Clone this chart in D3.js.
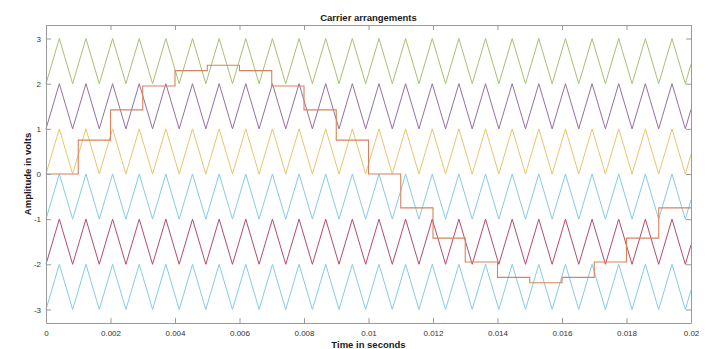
<!DOCTYPE html>
<html>
<head>
<meta charset="utf-8">
<script src="https://cdn.jsdelivr.net/npm/d3@7"></script>
<style>
  body { margin: 0; background: #fff; }
  svg { display: block; font-family: "Liberation Sans", Arial, sans-serif; }
  .axis path, .axis line { stroke: #9a9a9a; }
  .axis text { fill: #333; font-size: 8px; }
</style>
</head>
<body>
<script>
// ---- data ----
const xTickValues = [0, 0.002, 0.004, 0.006, 0.008, 0.01, 0.012, 0.014, 0.016, 0.018, 0.02];
const xTickLabels = ["0", "0.002", "0.004", "0.006", "0.008", "0.01", "0.012", "0.014", "0.016", "0.018", "0.02"];
const yTickValues = [-3, -2, -1, 0, 1, 2, 3];
const yTickLabels = ["-3", "-2", "-1", "0", "1", "2", "3"];

// carrier vertex times (ms) and the level at each vertex (0 = bottom, 1 = top of the band)
const carrierVertexMs = [0, 0.413, 0.826, 1.239, 1.652, 2.065, 2.478, 2.891, 3.304, 3.717,
  4.130, 4.543, 4.956, 5.369, 5.782, 6.195, 6.608, 7.021, 7.434, 7.847,
  8.260, 8.673, 9.086, 9.499, 9.912, 10.325, 10.738, 11.151, 11.564, 11.977,
  12.390, 12.803, 13.216, 13.629, 14.042, 14.455, 14.868, 15.281, 15.694, 16.107,
  16.520, 16.933, 17.346, 17.759, 18.172, 18.585, 18.998, 19.411, 19.824, 20];
const carrierVertexLevel = [0, 1, 0, 1, 0, 1, 0, 1, 0, 1,
  0, 1, 0, 1, 0, 1, 0, 1, 0, 1,
  0, 1, 0, 1, 0, 1, 0, 1, 0, 1,
  0, 1, 0, 1, 0, 1, 0, 1, 0, 1,
  0, 1, 0, 1, 0, 1, 0, 1, 0, 0.43];
const carrierBottoms = [2, 1, 0, -1, -2, -3];
const carrierColors = ["#a6c173", "#9470a3", "#eac46e", "#86cbe7", "#b04d69", "#86cbe7"];

// reference staircase: start time of each step (ms) and its level (V)
const stepStartMs = [0, 1, 2, 3, 4, 5, 6, 7, 8, 9, 10, 11, 12, 13, 14, 15, 16, 17, 18, 19, 20];
const stepValues = [0, 0.75, 1.42, 1.95, 2.29, 2.41, 2.29, 1.95, 1.42, 0.75,
  0, -0.75, -1.42, -1.95, -2.29, -2.41, -2.29, -1.95, -1.42, -0.75, -0.75];
const stairColor = "#d8835f";

// ---- layout ----
const width = 709, height = 349;
const margin = {top: 25, right: 18, bottom: 26, left: 46};

const svg = d3.select("body").append("svg")
  .attr("width", width).attr("height", height);

const xScale = d3.scaleLinear().domain([0, 0.02]).range([margin.left, width - margin.right]);
const yScale = d3.scaleLinear().domain([-3.3, 3.3]).range([height - margin.bottom, margin.top]);

const plotGroup = svg.append("g");
const axesGroup = svg.append("g");

// carriers
const line = d3.line()
  .x(d => xScale(d.t))
  .y(d => yScale(d.v));

carrierBottoms.forEach((bottom, i) => {
  const pts = carrierVertexMs.map((ms, k) => ({t: ms / 1000, v: bottom + carrierVertexLevel[k]}));
  plotGroup.append("path")
    .datum(pts)
    .attr("fill", "none")
    .attr("stroke", carrierColors[i])
    .attr("stroke-width", 1)
    .attr("d", line);
});

// staircase
const stairPts = stepStartMs.map((ms, k) => ({t: ms / 1000, v: stepValues[k]}));
plotGroup.append("path")
  .datum(stairPts)
  .attr("fill", "none")
  .attr("stroke", stairColor)
  .attr("stroke-width", 1.1)
  .attr("d", line.curve(d3.curveStepAfter));

// axes (ticks pointing inward, box all round)
const x0 = xScale.range()[0], x1 = xScale.range()[1];
const y0 = yScale.range()[0], y1 = yScale.range()[1];

axesGroup.append("g").attr("class", "axis")
  .attr("transform", `translate(0,${y0})`)
  .call(d3.axisBottom(xScale).tickValues(xTickValues)
    .tickFormat((d, i) => xTickLabels[i]).tickSizeInner(-5).tickSizeOuter(0).tickPadding(7));

axesGroup.append("g").attr("class", "axis")
  .attr("transform", `translate(0,${y1})`)
  .call(d3.axisTop(xScale).tickValues(xTickValues)
    .tickFormat("").tickSizeInner(-5).tickSizeOuter(0));

axesGroup.append("g").attr("class", "axis")
  .attr("transform", `translate(${x0},0)`)
  .call(d3.axisLeft(yScale).tickValues(yTickValues)
    .tickFormat((d, i) => yTickLabels[i]).tickSizeInner(-5).tickSizeOuter(0).tickPadding(5));

axesGroup.append("g").attr("class", "axis")
  .attr("transform", `translate(${x1},0)`)
  .call(d3.axisRight(yScale).tickValues(yTickValues)
    .tickFormat("").tickSizeInner(-5).tickSizeOuter(0));

// labels
svg.append("text")
  .attr("x", (x0 + x1) / 2).attr("y", 21)
  .attr("text-anchor", "middle")
  .style("font-size", "9.5px").style("font-weight", "bold").attr("fill", "#1a1a1a")
  .text("Carrier arrangements");

svg.append("text")
  .attr("x", (x0 + x1) / 2).attr("y", 348)
  .attr("text-anchor", "middle")
  .style("font-size", "9.5px").style("font-weight", "bold").attr("fill", "#1a1a1a")
  .text("Time in seconds");

svg.append("text")
  .attr("transform", `translate(31,${(y0 + y1) / 2}) rotate(-90)`)
  .attr("text-anchor", "middle")
  .style("font-size", "9.5px").style("font-weight", "bold").attr("fill", "#1a1a1a")
  .text("Amplitude in volts");
</script>
</body>
</html>
